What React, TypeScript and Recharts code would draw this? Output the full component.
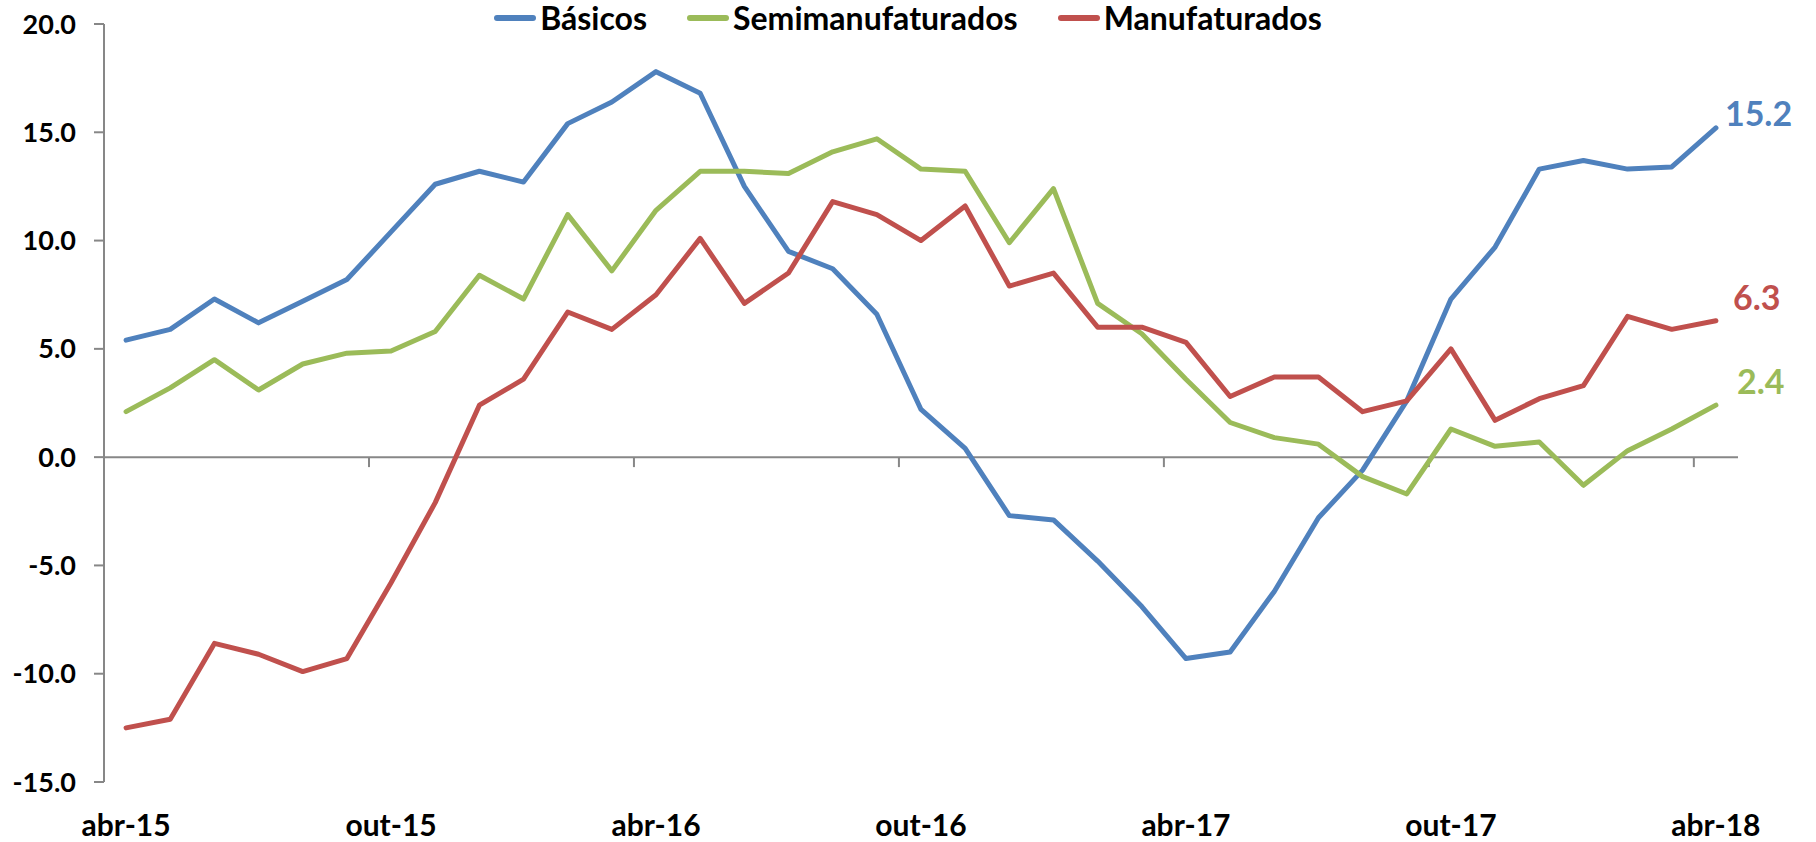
import React from 'react';
import { LineChart, Line, XAxis, YAxis, ReferenceLine, Legend, LabelList } from 'recharts';

const MONTHS = [
  'abr-15', 'mai-15', 'jun-15', 'jul-15', 'ago-15', 'set-15', 'out-15', 'nov-15', 'dez-15',
  'jan-16', 'fev-16', 'mar-16', 'abr-16', 'mai-16', 'jun-16', 'jul-16', 'ago-16', 'set-16',
  'out-16', 'nov-16', 'dez-16', 'jan-17', 'fev-17', 'mar-17', 'abr-17', 'mai-17', 'jun-17',
  'jul-17', 'ago-17', 'set-17', 'out-17', 'nov-17', 'dez-17', 'jan-18', 'fev-18', 'mar-18',
  'abr-18',
];

const BASICOS = [
  5.4, 5.9, 7.3, 6.2, 7.2, 8.2, 10.4, 12.6, 13.2, 12.7, 15.4, 16.4, 17.8, 16.8, 12.5, 9.5,
  8.7, 6.6, 2.2, 0.4, -2.7, -2.9, -4.8, -6.9, -9.3, -9.0, -6.2, -2.8, -0.6, 2.6, 7.3, 9.7,
  13.3, 13.7, 13.3, 13.4, 15.2,
];

const SEMI = [
  2.1, 3.2, 4.5, 3.1, 4.3, 4.8, 4.9, 5.8, 8.4, 7.3, 11.2, 8.6, 11.4, 13.2, 13.2, 13.1,
  14.1, 14.7, 13.3, 13.2, 9.9, 12.4, 7.1, 5.7, 3.6, 1.6, 0.9, 0.6, -0.9, -1.7, 1.3, 0.5,
  0.7, -1.3, 0.3, 1.3, 2.4,
];

const MANUF = [
  -12.5, -12.1, -8.6, -9.1, -9.9, -9.3, -5.8, -2.1, 2.4, 3.6, 6.7, 5.9, 7.5, 10.1, 7.1, 8.5,
  11.8, 11.2, 10.0, 11.6, 7.9, 8.5, 6.0, 6.0, 5.3, 2.8, 3.7, 3.7, 2.1, 2.6, 5.0, 1.7,
  2.7, 3.3, 6.5, 5.9, 6.3,
];

const X_TICKS = [0, 6, 12, 18, 24, 30, 36];
const X_MARKS = [5.5, 11.5, 17.5, 23.5, 29.5, 35.5];
const Y_TICKS = [-15, -10, -5, 0, 5, 10, 15, 20];

const data = MONTHS.map((m, i) => ({
  idx: i,
  month: m,
  basicos: BASICOS[i],
  semi: SEMI[i],
  manuf: MANUF[i],
}));

const SERIES = [
  { key: 'basicos', name: 'Básicos', color: '#4F81BD', dx: 9, dy: -15 },
  { key: 'semi', name: 'Semimanufaturados', color: '#9BBB59', dx: 21, dy: -25 },
  { key: 'manuf', name: 'Manufaturados', color: '#C0504D', dx: 17, dy: -24 },
];

const AXIS = '#878787';
const LAST = MONTHS.length - 1;

const endLabel = (color: string, dx: number, dy: number) => (props: any) => {
  const { x, y, value, index } = props;
  if (index !== LAST) return null;
  return (
    <text x={x + dx} y={y + dy} fill={color} fontSize={34} fontWeight={700} dominantBaseline="central">
      {Number(value).toFixed(1)}
    </text>
  );
};

const renderLegend = () => (
  <div style={{ display: 'flex', justifyContent: 'center', gap: 40, fontSize: 32, fontWeight: 700, lineHeight: '36px' }}>
    {SERIES.map((s) => (
      <div key={s.key} style={{ display: 'flex', alignItems: 'center' }}>
        <span style={{ display: 'inline-block', width: 42, height: 6, background: s.color, borderRadius: 3, marginRight: 4 }} />
        <span>{s.name}</span>
      </div>
    ))}
  </div>
);

export default function App() {
  return (
    <div style={{ fontFamily: 'Lato, sans-serif', position: 'absolute', top: 0, left: 8 }}>
      <LineChart width={1800} height={842} data={data} margin={{ top: 24, right: 70, left: 0, bottom: 0 }}>
        <XAxis
          dataKey="idx"
          type="number"
          domain={[-0.5, 36.5]}
          ticks={X_TICKS}
          tickFormatter={(i: number) => MONTHS[i]}
          axisLine={false}
          tickLine={false}
          tickSize={0}
          tickMargin={33}
          height={60}
          tick={{ fontSize: 30, fontWeight: 700, fill: '#000' }}
          interval={0}
        />
        <YAxis
          domain={[-15, 20]}
          ticks={Y_TICKS}
          width={96}
          tickFormatter={(v: number) => v.toFixed(1)}
          axisLine={{ stroke: AXIS, strokeWidth: 2 }}
          tickLine={{ stroke: AXIS, strokeWidth: 2 }}
          tickSize={10}
          tickMargin={18}
          tick={{ fontSize: 27, fontWeight: 700, fill: '#000' }}
          interval={0}
        />
        <ReferenceLine y={0} stroke={AXIS} strokeWidth={2} />
        {X_MARKS.map((m) => (
          <ReferenceLine
            key={m}
            segment={[{ x: m, y: 0 }, { x: m, y: -0.46 }]}
            stroke={AXIS}
            strokeWidth={2}
          />
        ))}
        <Legend
          verticalAlign="middle"
          content={renderLegend}
          wrapperStyle={{ top: 0, left: 0, width: 1800 }}
        />
        {SERIES.map((s) => (
          <Line
            key={s.key}
            dataKey={s.key}
            name={s.name}
            stroke={s.color}
            strokeWidth={5}
            strokeLinejoin="round"
            strokeLinecap="round"
            dot={false}
            activeDot={false}
            isAnimationActive={false}
          >
            <LabelList dataKey={s.key} content={endLabel(s.color, s.dx, s.dy)} />
          </Line>
        ))}
      </LineChart>
    </div>
  );
}
